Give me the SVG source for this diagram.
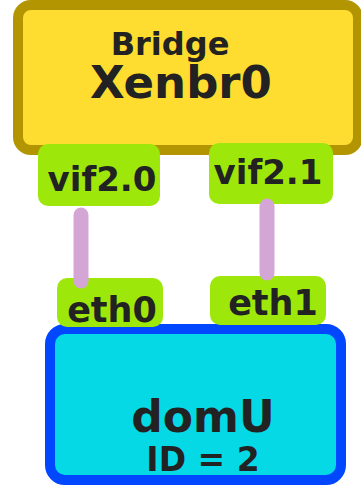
<svg xmlns="http://www.w3.org/2000/svg" width="361" height="486" viewBox="0 0 361 486">
<style>
text{font-family:"DejaVu Sans","Liberation Sans",sans-serif;font-weight:bold;fill:#222;text-anchor:middle}
.port{fill:#9de80a}
.link{stroke:#d4a6d6;stroke-width:15;stroke-linecap:round;fill:none}
</style>
<g id="bridge">
<rect x="18" y="5" width="340" height="145" rx="13" fill="#fedc30" stroke="#b29500" stroke-width="10"/>
<text x="170" y="55" font-size="32">Bridge</text>
<text x="181" y="98" font-size="45">Xenbr0</text>
</g>
<g id="domU">
<rect x="50" y="329" width="291" height="151" rx="15" fill="#06d9e6" stroke="#0047ff" stroke-width="10"/>
<text x="203" y="432" font-size="44">domU</text>
<text x="203" y="471" font-size="33">ID = 2</text>
</g>
<g id="vif2.0">
<rect class="port" x="38" y="144" width="122" height="62" rx="10"/>
<text x="102" y="191" font-size="34">vif2.0</text>
</g>
<g id="vif2.1">
<rect class="port" x="209" y="143" width="124" height="61" rx="10"/>
<text x="268" y="184" font-size="34">vif2.1</text>
</g>
<g id="eth0">
<rect class="port" x="57" y="278" width="106" height="49" rx="10"/>
<text x="112" y="322" font-size="35">eth0</text>
</g>
<g id="eth1">
<rect class="port" x="210" y="276" width="116" height="49" rx="10"/>
<text x="273" y="315" font-size="35">eth1</text>
</g>
<g id="connectors">
<line class="link" x1="81" y1="215" x2="81" y2="281"/>
<line class="link" x1="267" y1="206" x2="267" y2="273"/>
</g>
</svg>
